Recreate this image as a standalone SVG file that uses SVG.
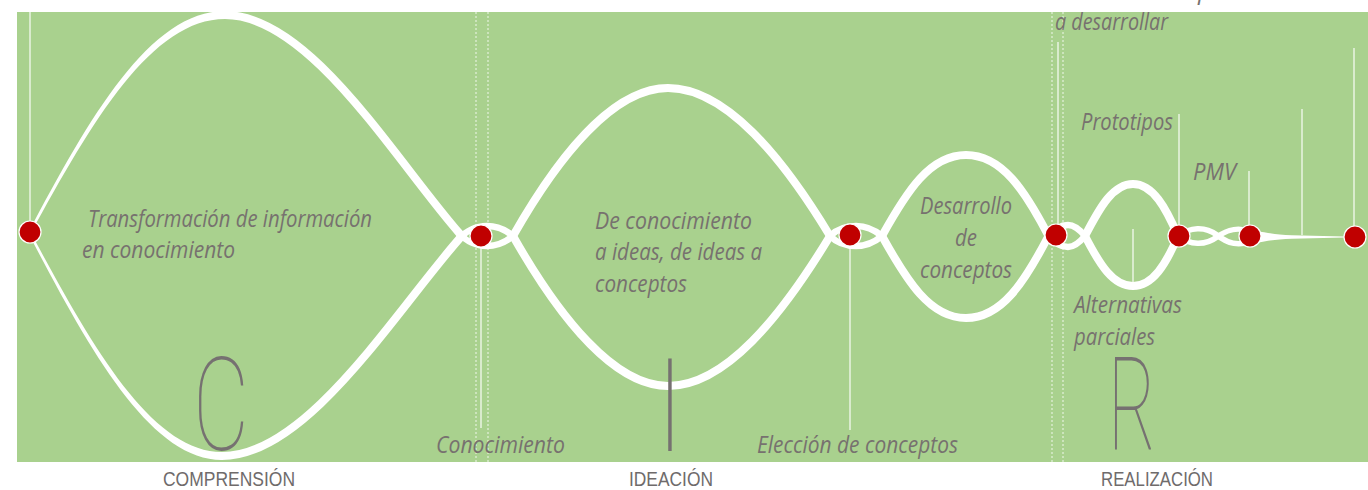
<svg xmlns="http://www.w3.org/2000/svg" width="1368" height="490" viewBox="0 0 1368 490">
<style>
.bg{fill:#A9D18E}
.curve{fill:none;stroke:#FFFFFF;stroke-width:8;stroke-linecap:round;stroke-linejoin:round}
.eye{fill:none;stroke:#FFFFFF;stroke-width:6.5;stroke-linecap:round;stroke-linejoin:round}
.taper{fill:#FFFFFF}
.vline{stroke:#FFFFFF;stroke-opacity:0.75;stroke-width:1.5;fill:none}
.dot{stroke:#FFFFFF;stroke-opacity:0.55;stroke-width:1.5;stroke-dasharray:2 2;fill:none}
.node{fill:#C00000;stroke:#FFFFFF;stroke-width:1.2}
.lbl{font-family:"Open Sans","Liberation Sans",sans-serif;font-style:italic;font-size:24px;fill:#77716F}
.phase{font-family:"Liberation Sans",Arial,sans-serif;font-size:20.5px;fill:#6F6B6B}
.big{font-family:Roboto,"Liberation Sans",sans-serif;font-weight:100;font-size:130px;fill:#767171}
</style>
<rect class="bg" x="17" y="12" width="1351" height="450"/>

<g id="guides">
<line class="dot" x1="476" y1="12" x2="476" y2="462"/>
<line class="dot" x1="488" y1="12" x2="488" y2="462"/>
<line class="dot" x1="1052" y1="12" x2="1052" y2="462"/>
<line class="dot" x1="1063" y1="12" x2="1063" y2="462"/>
<line class="vline" x1="30" y1="12" x2="30" y2="222"/>
<line class="vline" x1="481" y1="246" x2="481" y2="428"/>
<line class="vline" x1="850" y1="246" x2="850" y2="430"/>
<line class="vline" x1="1058" y1="42" x2="1058" y2="225"/>
<line class="vline" x1="1179" y1="114" x2="1179" y2="226"/>
<line class="vline" x1="1133" y1="229" x2="1133" y2="283"/>
<line class="vline" x1="1249" y1="171" x2="1249" y2="226"/>
<line class="vline" x1="1302" y1="109" x2="1302" y2="235"/>
<line class="vline" x1="1354" y1="48" x2="1354" y2="227"/>
</g>

<g id="connectors">
<path class="taper" d="M29,231.5 C89,118 150,11 225,11 L225,19 C152,19 92,121 31,233 Z"/>
<path class="taper" d="M29,234.5 C89,349 150,460 222,460 L222,452 C152,452 92,347 31,233 Z"/>
<path class="curve" d="M225,15 C310,15 395,160 460,234"/>
<path class="curve" d="M222,456 C307,456 395,312 460,238"/>
<path class="eye" d="M460,234 C466,241 476,246 487,246 C498,246 507,241 513,236"/>
<path class="eye" d="M460,238 C466,231 476,226 487,226 C498,226 507,231 513,236"/>
<path class="curve" d="M513,236 C559,155 614,88 668,88 C725,88 781,155 830,236"/>
<path class="curve" d="M513,236 C559,317 614,386 668,386 C725,386 781,317 830,236"/>
<path class="eye" d="M830,236 C836,242 845,246 856,246 C867,246 876,241 882,236"/>
<path class="eye" d="M830,236 C836,230 845,226 856,226 C867,226 876,231 882,236"/>
<path class="curve" d="M882,236 C907,191 930,155 966,155 C1002,155 1025,191 1048,235"/>
<path class="curve" d="M882,236 C907,281 930,318 966,318 C1002,318 1025,281 1048,237"/>
<path class="eye" d="M1048,235 C1055,244 1062,247 1068,247 C1075,247 1080,242 1085,236"/>
<path class="eye" d="M1048,237 C1055,228 1062,225 1068,225 C1075,225 1080,230 1085,236"/>
<path class="curve" d="M1085,236 C1100,207 1113,184 1133,184 C1153,184 1166,208 1178,236"/>
<path class="curve" d="M1085,236 C1100,265 1113,286 1133,286 C1153,286 1166,264 1178,236"/>
<path class="eye" style="stroke-width:5.5" d="M1178,236 C1190,245 1205,246 1217,237 C1228,229 1240,227 1250,232"/>
<path class="eye" style="stroke-width:5.5" d="M1178,236 C1190,227 1205,226 1217,235 C1228,244 1240,246 1250,241"/>
<path class="taper" d="M1256,231 C1268,233 1276,234.5 1292,235.3 L1344,236.6 L1344,237.6 L1292,238.7 C1276,239.5 1268,240.5 1256,243 Z"/>
</g>

<g id="n1"><circle class="node" cx="30" cy="232" r="11"/></g>
<g id="n2"><circle class="node" cx="481" cy="236" r="11"/></g>
<g id="n3"><circle class="node" cx="850" cy="235" r="11"/></g>
<g id="n4"><circle class="node" cx="1056" cy="235" r="11"/></g>
<g id="n5"><circle class="node" cx="1179" cy="236" r="11"/></g>
<g id="n6"><circle class="node" cx="1250" cy="236" r="11"/></g>
<g id="n7"><circle class="node" cx="1355" cy="237" r="11"/></g>

<g id="labels">
<text class="lbl" x="88" y="227" textLength="284" lengthAdjust="spacingAndGlyphs">Transformación de información</text>
<text class="lbl" x="82" y="258" textLength="153" lengthAdjust="spacingAndGlyphs">en conocimiento</text>
<text class="lbl" x="595" y="228.5" textLength="157" lengthAdjust="spacingAndGlyphs">De conocimiento</text>
<text class="lbl" x="595" y="260" textLength="167" lengthAdjust="spacingAndGlyphs">a ideas, de ideas a</text>
<text class="lbl" x="595" y="291.5" textLength="92" lengthAdjust="spacingAndGlyphs">conceptos</text>
<text class="lbl" x="920" y="213.5" textLength="92" lengthAdjust="spacingAndGlyphs">Desarrollo</text>
<text class="lbl" x="955" y="245.5" textLength="22" lengthAdjust="spacingAndGlyphs">de</text>
<text class="lbl" x="920" y="277.5" textLength="92" lengthAdjust="spacingAndGlyphs">conceptos</text>
<text class="lbl" x="436" y="453" textLength="129" lengthAdjust="spacingAndGlyphs">Conocimiento</text>
<text class="lbl" x="757" y="453" textLength="201" lengthAdjust="spacingAndGlyphs">Elección de conceptos</text>
<text class="lbl" x="1198" y="-1.5">p</text>
<text class="lbl" x="1055" y="30" textLength="113" lengthAdjust="spacingAndGlyphs">a desarrollar</text>
<text class="lbl" x="1081" y="130" textLength="92" lengthAdjust="spacingAndGlyphs">Prototipos</text>
<text class="lbl" x="1193" y="180" textLength="43" lengthAdjust="spacingAndGlyphs">PMV</text>
<text class="lbl" x="1074" y="313" textLength="108" lengthAdjust="spacingAndGlyphs">Alternativas</text>
<text class="lbl" x="1074" y="345" textLength="81" lengthAdjust="spacingAndGlyphs">parciales</text>
</g>

<g id="phases">
<text class="big" x="193" y="450" textLength="56" lengthAdjust="spacingAndGlyphs">C</text>
<text class="big" x="670" y="451" text-anchor="middle">I</text>
<text class="big" x="1108" y="450" textLength="48" lengthAdjust="spacingAndGlyphs">R</text>
<text class="phase" x="163" y="485.5" textLength="132" lengthAdjust="spacingAndGlyphs">COMPRENSIÓN</text>
<text class="phase" x="629" y="485.5" textLength="84" lengthAdjust="spacingAndGlyphs">IDEACIÓN</text>
<text class="phase" x="1101" y="485.5" textLength="112" lengthAdjust="spacingAndGlyphs">REALIZACIÓN</text>
</g>
</svg>
